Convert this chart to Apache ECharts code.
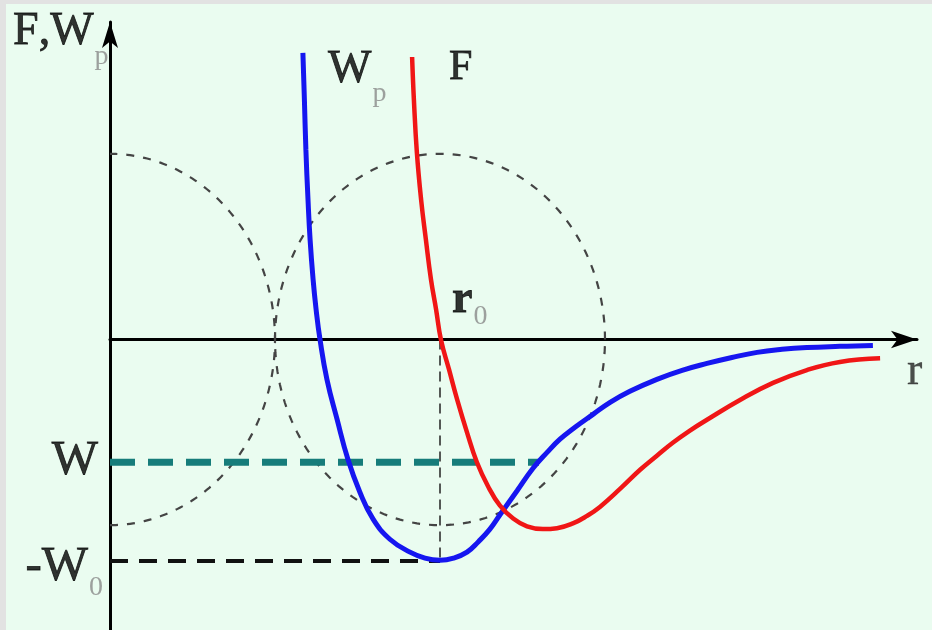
<!DOCTYPE html>
<html><head><meta charset="utf-8">
<script src="https://cdn.jsdelivr.net/npm/echarts@6/dist/echarts.min.js"></script>
<style>
html,body{margin:0;padding:0;background:#e2e2e2;width:932px;height:630px;overflow:hidden}
#c{position:absolute;left:6px;top:4px;width:926px;height:626px;background:#eafcf0}
</style></head><body><div id="c"></div>
<script>
// Diagram units: r0 = 110, W0 = 74
const rWp = [64.3, 64.8, 65.3, 66, 66.7, 67.7, 68.7, 70, 72.3, 75.7, 79.3, 83.3, 87.7, 93.3, 100, 105, 110, 114.5, 119, 122.8, 126.5, 130, 135.7, 141, 145.7, 150, 155, 161, 166.7, 173.3, 182.3, 190.7, 199, 207.3, 215.7, 224, 232.3, 243.3, 254.3];
const wpValues = [95.7, 80, 63.3, 46.7, 33.3, 20, 10, 0, -13.3, -26.7, -40, -51, -60, -66.7, -71, -73, -73.7, -73, -71, -67.5, -63.5, -58.5, -50.5, -43, -37.7, -33.3, -29.3, -25, -21, -17.3, -13.3, -10.3, -8, -6, -4.3, -3.3, -2.7, -2.3, -2];
const rF = [100.7, 101.3, 102.3, 103.7, 105.3, 107, 108.7, 110.3, 113, 115.7, 119, 122.3, 126, 130, 134.3, 139, 144.3, 149, 154.3, 159, 163.3, 170, 176.7, 182.3, 187.7, 193.3, 199, 210, 221, 232.3, 243.3, 256.7];
const fValues = [94.3, 80, 62.3, 46.7, 33.3, 20, 10, 0, -10, -20, -31, -41, -49, -55.5, -59.7, -62.4, -63.3, -63, -61.4, -58.9, -55.9, -49.9, -43.5, -38.8, -34.4, -30.4, -26.8, -20.2, -14.5, -10.2, -7.5, -6.3];
const r0 = 110;
const levelW = -41;
const levelW0 = -74;
const wEndR = 143;
// dashed circles: [centre r, centre value, radius r, radius value, start angle, end angle]
const circles = [[0, 0, 55, 62, -90, 90], [110, 0, 55, 62, 0, 360]];

const serif = "'Liberation Serif','Times New Roman',serif";
function tok(size, extra) {
  return Object.assign({fontFamily: serif, fontSize: size, lineHeight: size, color: '#000', verticalAlign: 'top',
    textBorderColor: '#000', textBorderWidth: 0.8}, extra || {});
}
function sub(padTop) {
  return {fontFamily: serif, fontSize: 28, lineHeight: 28, color: '#888', verticalAlign: 'top', padding: [padTop, 0, 0, 1]};
}
const rich = {
  m: tok(46),
  w: tok(49),
  f: tok(42),
  b: tok(46, {fontWeight: 'bold'}),
  x: tok(46, {color: '#222', textBorderColor: '#222', textBorderWidth: 0.3}),
  s1: sub(33),
  s2: sub(25),
  s3: sub(31)
};
function lbl(x, y, text, align) {
  return {value: [x, y], label: {show: true, position: [0, 0], align: align || 'left', verticalAlign: 'top', color: '#000', formatter: text, rich: rich}};
}

const chart = echarts.init(document.getElementById('c'), null, {renderer: 'canvas'});
chart.setOption({
  animation: false,
  backgroundColor: '#eafcf0',
  grid: {left: 104, top: 18, width: 807, height: 609},
  xAxis: {type: 'value', min: 0, max: 269, axisTick: {show: false}, axisLabel: {show: false}, splitLine: {show: false},
    axisLine: {lineStyle: {color: '#000', width: 3}, symbol: ['none', 'arrow'], symbolSize: [13, 26]}},
  yAxis: {type: 'value', min: -97, max: 106, axisTick: {show: false}, axisLabel: {show: false}, splitLine: {show: false},
    axisLine: {lineStyle: {color: '#000', width: 3}, symbol: ['none', 'arrow'], symbolSize: [12, 26]}},
  series: [
    {type: 'custom', z: 1, silent: true, data: circles,
      renderItem: function (params, api) {
        const cx = api.value(0), cy = api.value(1), rx = api.value(2), ry = api.value(3), a0 = api.value(4), a1 = api.value(5);
        const pts = [];
        const N = 180;
        for (let i = 0; i <= N; i++) {
          const t = (a0 + (a1 - a0) * i / N) * Math.PI / 180;
          pts.push(api.coord([cx + rx * Math.cos(t), cy + ry * Math.sin(t)]));
        }
        return {type: 'polyline', shape: {points: pts}, style: {stroke: '#444', lineWidth: 2.2, lineDash: [8, 9], fill: null}};
      }},
    {type: 'line', z: 2, silent: true, symbol: 'none', data: [[0, levelW], [wEndR, levelW]],
      lineStyle: {color: '#167c7a', width: 7, type: [25, 13]}},
    {type: 'line', z: 2, silent: true, symbol: 'none', data: [[0, levelW0], [r0, levelW0]],
      lineStyle: {color: '#111', width: 4, type: [18, 11]}},
    {type: 'line', z: 2, silent: true, symbol: 'none', data: [[r0, 0], [r0, levelW0]],
      lineStyle: {color: '#222', width: 1.5, type: [10, 6]}},
    {type: 'line', z: 3, silent: true, symbol: 'none', smooth: 0.45, data: rWp.map((r, i) => [r, wpValues[i]]),
      lineStyle: {color: '#1616f0', width: 5}},
    {type: 'line', z: 3, silent: true, symbol: 'none', smooth: 0.45, data: rF.map((r, i) => [r, fValues[i]]),
      lineStyle: {color: '#f01616', width: 4.5}},
    {type: 'scatter', z: 4, silent: true, clip: false, symbolSize: 0,
      data: [
        lbl(72.7, 97.8, '{m|W}{s1|p}'),
        lbl(113, 97.7, '{f|F}'),
        lbl(114, 20.7, '{b|r}{s2|0}'),
        lbl(265.7, -3, '{x|r}'),
        lbl(-32.3, 110.2, '{m|F}{m|,}{m|W}{s1|p}'),
        lbl(-4, -32.3, '{w|W}', 'right'),
        lbl(-2.3, -67.7, '{w|-W}{s3|0}', 'right')
      ]}
  ]
});
</script></body></html>
